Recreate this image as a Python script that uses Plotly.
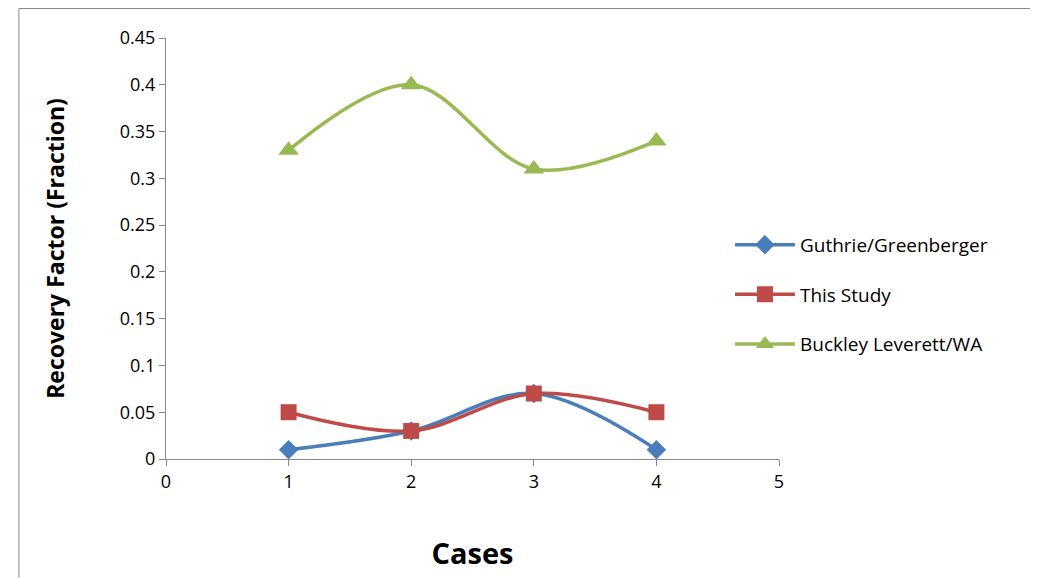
from plotly import graph_objects as go

cases = [1, 2, 3, 4]
guthrie = [0.01, 0.03, 0.07, 0.01]
this_study = [0.05, 0.03, 0.07, 0.05]
buckley = [0.33, 0.40, 0.31, 0.34]

fig = go.Figure()
series = [
    ("Guthrie/Greenberger", guthrie, "#4A7EBB", "diamond", 15),
    ("This Study", this_study, "#BE4B48", "square", 16),
    ("Buckley Leverett/WA", buckley, "#98B954", "triangle-up", 18),
]
for name, vals, col, sym, sz in series:
    fig.add_trace(go.Scatter(
        x=cases, y=vals, name=name, legendgroup=name, mode="lines+markers",
        line=dict(color=col, width=3.5, shape="spline", smoothing=1.0),
        marker=dict(symbol=sym, size=sz, color=col),
    ))

fig.update_layout(
    width=1038, height=578,
    paper_bgcolor="white", plot_bgcolor="white",
    margin=dict(l=158, r=267, t=30, b=127),
    font=dict(family="Open Sans", size=18, color="black"),
    legend=dict(x=0.92, y=0.39, xanchor="left", yanchor="middle",
                font=dict(size=19), tracegroupgap=22, itemwidth=60),
    shapes=[dict(type="rect", xref="paper", yref="paper",
                 x0=-0.24, x1=1.42, y0=-0.3, y1=1.07,
                 line=dict(color="#888888", width=1))],
)
fig.update_xaxes(range=[0, 5], tickvals=[0, 1, 2, 3, 4, 5], showgrid=False,
                 showline=True, linecolor="#888888", ticks="outside",
                 tickcolor="#888888", ticklen=6, zeroline=False,
                 title=dict(text="<b>Cases</b>", font=dict(size=29), standoff=52))
fig.update_yaxes(range=[0, 0.45], tickvals=[0, 0.05, 0.1, 0.15, 0.2, 0.25, 0.3, 0.35, 0.4, 0.45],
                 ticktext=["0", "0.05", "0.1", "0.15", "0.2", "0.25", "0.3", "0.35", "0.4", "0.45"],
                 showgrid=False, showline=True, linecolor="#888888", ticks="outside",
                 tickcolor="#888888", ticklen=6, zeroline=False,
                 title=dict(text="<b>Recovery Factor (Fraction)</b>", font=dict(size=23), standoff=48))

fig.write_html("out.html")
